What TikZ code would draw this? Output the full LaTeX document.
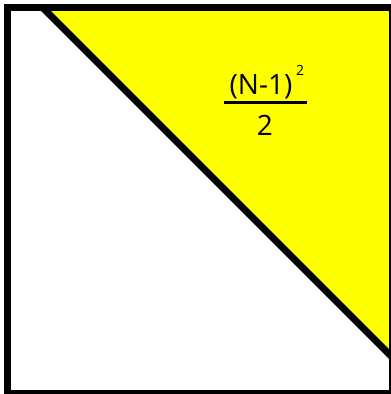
\documentclass[tikz,border=0pt]{standalone}
\usepackage{fontspec}
\setmainfont{Open Sans}
\usetikzlibrary{positioning}
\usetikzlibrary{calc}
\definecolor{triyellow}{RGB}{255,255,0}

\begin{document}
\begin{tikzpicture}[x=1pt, y=-1pt, line join=miter,
  every node/.style={inner sep=0pt, outer sep=0pt},
  lbl/.style={font=\fontsize{28}{32}\selectfont},
  pow/.style={font=\fontsize{14}{16}\selectfont}]

      % Picture size
      \useasboundingbox (0,0) rectangle (391,394);
      \clip (0,0) rectangle (391,394);

      % Thickness of the frame and the diagonal
      \def\lw{7}

      % Corners of the square
      \coordinate (tl) at (7,7.5);
      \coordinate (tr) at (392.5,7.5);
      \coordinate (br) at (392.5,393);
      \coordinate (bl) at (7,393);

      % Ends of the diagonal
      \coordinate (d1) at (42.5,7.5);
      \coordinate (d2) at (392.5,357.5);

      % Yellow upper triangle
      \fill[triyellow] (d1) -- (tr) -- (d2) -- cycle;

      % Diagonal and frame
      \draw[line width=\lw] (d1) -- (d2);
      \draw[line width=\lw] (tl) rectangle (br);

      % Fraction
      \node[lbl, anchor=base] (num) at (261,94) {(N-1)};
      \node[pow, anchor=base west] (sq) at (296,75) {2};
      \node[lbl, anchor=base] (den) at (265,135) {2};
      \draw[line width=3] (224,102) -- (307,102);
    \end{tikzpicture}
\end{document}
